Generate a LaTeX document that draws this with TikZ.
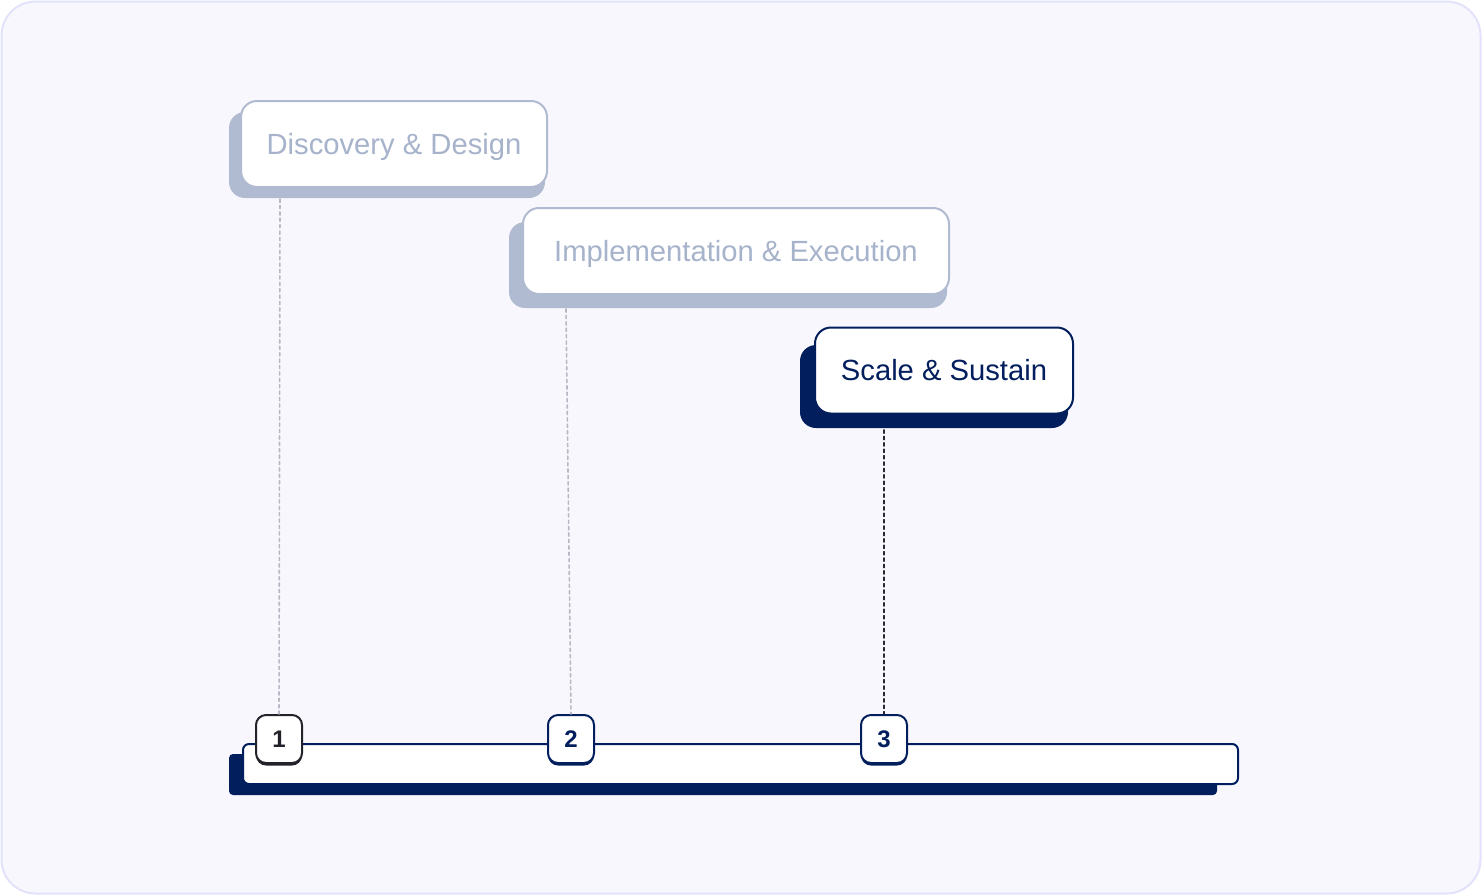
\documentclass[tikz,border=0pt]{standalone}
\usepackage{fontspec}
\setmainfont{Liberation Sans}
\usetikzlibrary{calc}

\begin{document}
\begin{tikzpicture}[x=0.5pt, y=-0.5pt, line cap=round, line join=round]

	\definecolor{pageBg}{RGB}{249,247,254}
	\definecolor{pageEdge}{RGB}{226,226,250}
	\definecolor{navyA}{RGB}{2,30,92}
	\definecolor{grayShadow}{RGB}{176,186,208}
	\definecolor{grayText}{RGB}{166,179,203}
	\definecolor{grayDash}{RGB}{184,184,196}
	\definecolor{darkDash}{RGB}{40,40,52}
	\definecolor{inkA}{RGB}{34,34,42}

	\tikzset{
		phase/.style={rounded corners=8pt, fill=white, line width=1pt, inner sep=0pt,
			minimum height=43pt, text height=10.4pt, text depth=0pt,
			font=\fontsize{14.6}{18}\selectfont},
		phaseOff/.style={phase, draw=grayShadow, text=grayText},
		phaseOn/.style={phase, draw=navyA, text=navyA},
		badge/.style={rounded corners=5pt, fill=white, line width=1pt, inner sep=0pt,
			minimum width=23pt, minimum height=24pt, text height=8.6pt, text depth=0pt,
			font=\fontsize{12}{14}\selectfont\bfseries},
		guide/.style={line width=0.8pt, dash pattern=on 1.6pt off 1.6pt},
	}

	% --- page frame
	\useasboundingbox (0,0) rectangle (1482,895);
	\draw[pageEdge, fill=pageBg, line width=1pt, rounded corners=17pt] (1.5,1.5) rectangle (1480.5,893.5);

	% --- shadows behind the phase boxes
	\fill[grayShadow, rounded corners=8pt] (229,112) rectangle (545,198);
	\fill[grayShadow, rounded corners=8pt] (509,222) rectangle (947,308);
	\fill[navyA, rounded corners=8pt] (800,345) rectangle (1068,428);

	% --- phase boxes
	\node[phaseOff, minimum width=153pt] (disc) at (394,144) {Discovery \& Design};
	\node[phaseOff, minimum width=213pt] (impl) at (736,251) {Implementation \& Execution};
	\node[phaseOn, minimum width=129pt] (scale) at (944,370.5) {Scale \& Sustain};

	% --- timeline bar
	\fill[navyA, rounded corners=2pt] (229,754) rectangle (1217,795);
	\node[draw=navyA, fill=white, line width=1pt, rounded corners=3pt, inner sep=0pt,
		minimum width=497.5pt, minimum height=20pt] (bar) at (740.5,764) {};

	% --- step badges
	\foreach \n/\xx/\col in {1/279/inkA, 2/571/navyA, 3/884/navyA}{
		\fill[\col, rounded corners=5pt] (\xx-23,717.5) rectangle (\xx+23,765.5);
		\node[badge, draw=\col, text=\col] (b\n) at (\xx,739) {\n};
	}

	% --- guides from the boxes down to the badges
	\coordinate (g1) at (280,199);
	\coordinate (g2) at (566,309);
	\coordinate (g3) at (884,430);
	\draw[guide, grayDash] (g1) -- (b1.north);
	\draw[guide, grayDash] (g2) -- (b2.north);
	\draw[guide, darkDash] (g3) -- (b3.north);

\end{tikzpicture}
\end{document}
